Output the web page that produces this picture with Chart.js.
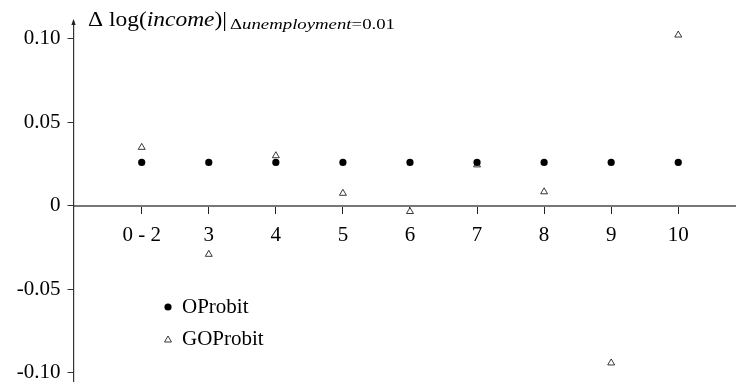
<!DOCTYPE html>
<html>
<head>
<meta charset="utf-8">
<script src="https://cdn.jsdelivr.net/npm/chart.js@4/dist/chart.umd.min.js"></script>
<style>
  html, body { margin: 0; padding: 0; background: #fff; }
  #wrap { width: 736px; height: 390px; }
</style>
</head>
<body>
<div id="wrap"><canvas id="c" width="736" height="390"></canvas></div>
<script>
// Income-group categories along the horizontal axis
const categories = ['0 - 2', '3', '4', '5', '6', '7', '8', '9', '10'];
// Marginal effect on log income of a 0.01 rise in unemployment
const oprobit = [0.026, 0.026, 0.026, 0.026, 0.026, 0.026, 0.026, 0.026, 0.026];
const goprobit = [0.035, -0.029, 0.030, 0.0075, -0.0034, 0.0245, 0.0084, -0.094, 0.1022];
const yTicks = [-0.10, -0.05, 0, 0.05, 0.10];
const yTickLabels = ['-0.10', '-0.05', '0', '0.05', '0.10'];

const toPoints = vals => vals.map((v, i) => ({ x: i, y: v }));
const SERIF = '"Liberation Serif", "DejaVu Serif", serif';

// Draw a run of differently styled text pieces, stretched to a given width
function drawRun(ctx, parts, x, y, width) {
  let natural = 0;
  parts.forEach(p => { ctx.font = p.f; natural += ctx.measureText(p.t).width; });
  const sx = width / natural;
  ctx.save();
  ctx.translate(x, y);
  ctx.scale(sx, 1);
  let cx = 0;
  parts.forEach(p => {
    ctx.font = p.f;
    ctx.fillText(p.t, cx, 0);
    cx += ctx.measureText(p.t).width;
  });
  ctx.restore();
}

// Axis label drawn at the top of the vertical axis, with its subscript
const axisTitle = {
  id: 'axisTitle',
  afterDraw(chart) {
    const ctx = chart.ctx;
    ctx.save();
    ctx.fillStyle = '#000';
    ctx.textBaseline = 'alphabetic';
    drawRun(ctx, [
      { t: '\u0394 log(', f: '22px ' + SERIF },
      { t: 'income', f: 'italic 22px ' + SERIF },
      { t: ')|', f: '22px ' + SERIF }
    ], 88, 26, 139);
    drawRun(ctx, [
      { t: '\u0394', f: '15px ' + SERIF },
      { t: 'unemployment', f: 'italic 15px ' + SERIF },
      { t: '=0.01', f: '15px ' + SERIF }
    ], 230, 29, 165);
    // arrowhead on the vertical axis
    const ax = chart.chartArea.left;
    const top = chart.chartArea.top;
    ctx.fillStyle = '#222';
    ctx.beginPath();
    ctx.moveTo(ax, top - 3);
    ctx.lineTo(ax - 2.2, top + 3);
    ctx.lineTo(ax + 2.2, top + 3);
    ctx.closePath();
    ctx.fill();
    ctx.restore();
  }
};

// Legend placed inside the plot, built from the datasets
const innerLegend = {
  id: 'innerLegend',
  afterDraw(chart) {
    const ctx = chart.ctx;
    ctx.save();
    ctx.font = '21px ' + SERIF;
    ctx.textBaseline = 'middle';
    chart.data.datasets.forEach((ds, i) => {
      const y = 307 + i * 32;
      ctx.fillStyle = ds.backgroundColor;
      ctx.strokeStyle = ds.borderColor;
      ctx.lineWidth = ds.borderWidth;
      ctx.beginPath();
      if (ds.pointStyle === 'circle') {
        ctx.arc(168, y, ds.pointRadius, 0, Math.PI * 2);
      } else {
        const r = ds.pointRadius;
        const cy = y + 1;
        ctx.moveTo(168, cy - r);
        ctx.lineTo(168 + r * Math.sin(2 * Math.PI / 3), cy + r / 2);
        ctx.lineTo(168 - r * Math.sin(2 * Math.PI / 3), cy + r / 2);
        ctx.closePath();
      }
      ctx.fill();
      if (ds.borderWidth) ctx.stroke();
      ctx.fillStyle = '#000';
      ctx.fillText(ds.label, 182, y);
    });
    ctx.restore();
  }
};

new Chart(document.getElementById('c'), {
  type: 'scatter',
  data: {
    datasets: [
      {
        label: 'OProbit',
        data: toPoints(oprobit),
        pointStyle: 'circle',
        pointRadius: 3.6,
        backgroundColor: '#000',
        borderColor: '#000',
        borderWidth: 0
      },
      {
        label: 'GOProbit',
        data: toPoints(goprobit),
        pointStyle: 'triangle',
        pointRadius: 4,
        backgroundColor: '#fff',
        borderColor: '#222',
        borderWidth: 0.9
      }
    ]
  },
  options: {
    responsive: false,
    animation: false,
    layout: { autoPadding: false, padding: { left: 0, right: 0, top: 22, bottom: 9 } },
    plugins: {
      legend: { display: false },
      tooltip: { enabled: false }
    },
    scales: {
      x: {
        type: 'linear',
        position: { y: 0 },
        min: -1.017,
        max: 8.861,
        afterBuildTicks(scale) {
          scale.ticks = categories.map((c, i) => ({ value: i }));
        },
        afterFit(scale) {
          scale.paddingLeft = 0; scale.paddingRight = 0;
          scale.paddingTop = 0; scale.paddingBottom = 0;
        },
        ticks: {
          callback: (v) => categories[v],
          font: { family: SERIF, size: 21 },
          color: '#000',
          padding: 10,
          maxRotation: 0,
          autoSkip: false
        },
        grid: {
          drawOnChartArea: false,
          drawTicks: true,
          tickLength: 7,
          tickColor: '#222',
          tickWidth: 1
        },
        border: { display: true, color: '#777', width: 2 }
      },
      y: {
        type: 'linear',
        position: 'left',
        min: -0.1048,
        max: 0.11,
        afterFit(scale) {
          scale.width = 73.5;
          scale.paddingTop = 0; scale.paddingBottom = 0;
        },
        afterBuildTicks(scale) {
          scale.ticks = yTicks.map(v => ({ value: v }));
        },
        ticks: {
          callback: (v) => yTickLabels[yTicks.findIndex(t => Math.abs(t - v) < 1e-9)],
          font: { family: SERIF, size: 21 },
          color: '#000',
          padding: 7
        },
        grid: {
          drawOnChartArea: false,
          drawTicks: true,
          tickLength: 6,
          tickColor: '#333',
          tickWidth: 1
        },
        border: { display: true, color: '#333', width: 1.2 }
      }
    }
  },
  plugins: [axisTitle, innerLegend]
});
</script>
</body>
</html>
